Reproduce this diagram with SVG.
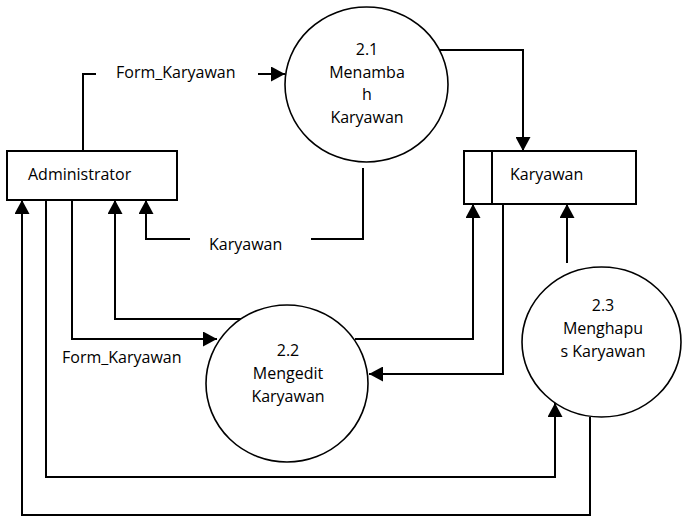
<svg xmlns="http://www.w3.org/2000/svg" width="682" height="517" viewBox="0 0 682 517">
  <style>
    .box { fill: #fff; stroke: #000; stroke-width: 2; }
    .proc { fill: #fff; stroke: #000; stroke-width: 1.6; }
    .flow { fill: none; stroke: #000; stroke-width: 2; }
    .arrow { marker-end: url(#head); }
    text { font-family: "Open Sans", "Noto Sans", "Liberation Sans", sans-serif; font-size: 16px; fill: #000; }
    .mid { text-anchor: middle; }
  </style>
  <defs>
    <marker id="head" viewBox="0 0 14 15" refX="14" refY="7.5" markerWidth="14" markerHeight="15" markerUnits="userSpaceOnUse" orient="auto">
      <path d="M0,0 L14,7.5 L0,15 Z" fill="#000"/>
    </marker>
  </defs>

  <!-- data flows -->
  <g id="connectors">
    <!-- Administrator -> 2.1 (Form_Karyawan) -->
    <path class="flow" d="M83,151 V74 H96"/>
    <path class="flow arrow" d="M258,74 H285"/>
    <text x="116" y="78">Form_Karyawan</text>
    <!-- 2.1 -> Karyawan store -->
    <path class="flow arrow" d="M433,50 H523 V151"/>
    <!-- 2.1 -> Administrator (Karyawan) -->
    <path class="flow" d="M363,168 V239 H311"/>
    <path class="flow arrow" d="M190,239 H146 V200"/>
    <text x="209" y="250">Karyawan</text>
    <!-- Administrator -> 2.2 (Form_Karyawan) -->
    <path class="flow arrow" d="M72,200 V339 H217"/>
    <text x="62" y="363">Form_Karyawan</text>
    <!-- 2.2 -> Administrator -->
    <path class="flow arrow" d="M245,319 H115 V200"/>
    <!-- 2.2 -> Karyawan store -->
    <path class="flow arrow" d="M355,339 H473 V204"/>
    <!-- Karyawan store -> 2.2 -->
    <path class="flow arrow" d="M503,204 V374 H369"/>
    <!-- 2.3 -> Karyawan store -->
    <path class="flow arrow" d="M567,263 V204"/>
    <!-- Administrator -> 2.3 -->
    <path class="flow arrow" d="M46,200 V477 H555 V403"/>
    <!-- 2.3 -> Administrator -->
    <path class="flow arrow" d="M590,417 V515 H22 V200"/>
  </g>

  <g id="administrator">
    <rect class="box" x="7" y="151" width="170" height="49"/>
    <text x="28" y="180">Administrator</text>
  </g>

  <g id="store-karyawan">
    <rect class="box" x="464" y="151" width="172" height="53"/>
    <line class="flow" x1="492" y1="151" x2="492" y2="204"/>
    <text x="510" y="180">Karyawan</text>
  </g>

  <g id="proc-2-1">
    <ellipse class="proc" cx="366.5" cy="84.5" rx="81.5" ry="77.5"/>
    <text class="mid" x="367" y="55">2.1</text>
    <text class="mid" x="367" y="78">Menamba</text>
    <text class="mid" x="367" y="100">h</text>
    <text class="mid" x="367" y="123">Karyawan</text>
  </g>

  <g id="proc-2-2">
    <ellipse class="proc" cx="287" cy="383.5" rx="81" ry="78.5"/>
    <text class="mid" x="288" y="356">2.2</text>
    <text class="mid" x="288" y="379">Mengedit</text>
    <text class="mid" x="288" y="402">Karyawan</text>
  </g>

  <g id="proc-2-3">
    <ellipse class="proc" cx="601.5" cy="342" rx="79.5" ry="75"/>
    <text class="mid" x="603" y="311">2.3</text>
    <text class="mid" x="603" y="334">Menghapu</text>
    <text class="mid" x="603" y="357">s Karyawan</text>
  </g>
</svg>
